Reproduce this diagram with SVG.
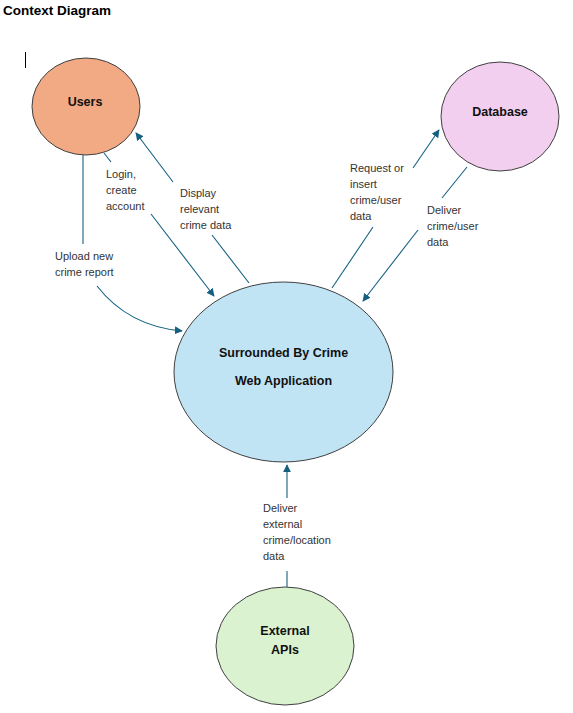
<svg xmlns="http://www.w3.org/2000/svg" width="573" height="713" viewBox="0 0 573 713">
<style>
.node{stroke:#404040;stroke-width:1}
.nl{font-family:"Liberation Sans",Arial,sans-serif;font-weight:bold;font-size:12.5px;fill:#111;text-anchor:middle}
.lbl{font-family:"Liberation Sans",Arial,sans-serif;font-size:11px;fill:#333}
.c{fill:none;stroke:#156082;stroke-width:1.1}
.title{font-family:"Liberation Sans",Arial,sans-serif;font-weight:bold;font-size:13.5px;fill:#000}
</style>
<defs>
<marker id="ah" viewBox="0 0 10 10" refX="9" refY="5" markerWidth="8" markerHeight="8" markerUnits="userSpaceOnUse" orient="auto">
<path d="M0,0 L10,5 L0,10 z" fill="#156082"/>
</marker>
</defs>
<rect width="573" height="713" fill="#fff"/>
<text class="title" x="3" y="15">Context Diagram</text>
<line x1="25.5" y1="52" x2="25.5" y2="68" stroke="#000" stroke-width="1"/>

<g id="users">
<ellipse class="node" cx="86" cy="106.5" rx="54" ry="48.5" fill="#F2AA84"/>
<text class="nl" x="85" y="106">Users</text>
</g>
<g id="database">
<ellipse class="node" cx="500" cy="116.5" rx="59" ry="54.5" fill="#F2CFEE"/>
<text class="nl" x="500" y="116">Database</text>
</g>
<g id="webapp">
<ellipse class="node" cx="283.5" cy="372" rx="109.5" ry="90" fill="#C1E4F5"/>
<text class="nl" x="283.5" y="357">Surrounded By Crime</text>
<text class="nl" x="283.5" y="385">Web Application</text>
</g>
<g id="externalapis">
<ellipse class="node" cx="285" cy="646" rx="69" ry="59" fill="#DAF2D0"/>
<text class="nl" x="285" y="635">External</text>
<text class="nl" x="285" y="654">APIs</text>
</g>

<g id="connectors">
<line class="c" x1="83" y1="155" x2="83" y2="244"/>
<path class="c" d="M97,286 Q128,326 182,331" marker-end="url(#ah)"/>
<line class="c" x1="104" y1="153" x2="111" y2="162"/>
<line class="c" x1="151" y1="214" x2="214" y2="296" marker-end="url(#ah)"/>
<line class="c" x1="249" y1="283" x2="212" y2="235"/>
<line class="c" x1="173" y1="182" x2="136" y2="133" marker-end="url(#ah)"/>
<line class="c" x1="332" y1="288" x2="373" y2="227"/>
<line class="c" x1="413" y1="168" x2="439" y2="130" marker-end="url(#ah)"/>
<line class="c" x1="467" y1="167" x2="442" y2="198"/>
<line class="c" x1="418" y1="230" x2="363" y2="301" marker-end="url(#ah)"/>
<line class="c" x1="287" y1="498" x2="287" y2="465" marker-end="url(#ah)"/>
<line class="c" x1="287" y1="571" x2="287" y2="587"/>
</g>

<g id="labels">
<text class="lbl" x="55" y="260">Upload new</text>
<text class="lbl" x="55" y="276">crime report</text>
<text class="lbl" x="106" y="178">Login,</text>
<text class="lbl" x="106" y="194">create</text>
<text class="lbl" x="106" y="210">account</text>
<text class="lbl" x="180" y="197">Display</text>
<text class="lbl" x="180" y="213">relevant</text>
<text class="lbl" x="180" y="229">crime data</text>
<text class="lbl" x="350" y="172">Request or</text>
<text class="lbl" x="350" y="188">insert</text>
<text class="lbl" x="350" y="204">crime/user</text>
<text class="lbl" x="350" y="220">data</text>
<text class="lbl" x="427" y="214">Deliver</text>
<text class="lbl" x="427" y="230">crime/user</text>
<text class="lbl" x="427" y="246">data</text>
<text class="lbl" x="263" y="512">Deliver</text>
<text class="lbl" x="263" y="528">external</text>
<text class="lbl" x="263" y="544">crime/location</text>
<text class="lbl" x="263" y="560">data</text>
</g>
</svg>
